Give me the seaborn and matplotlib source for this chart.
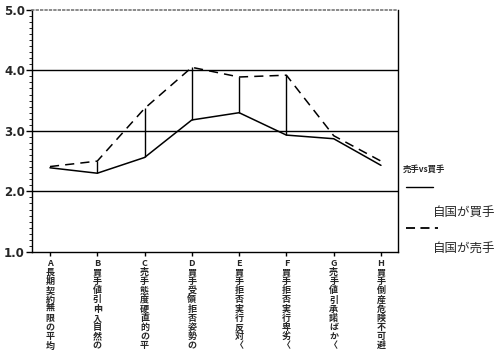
import matplotlib
matplotlib.use("Agg")
import matplotlib.pyplot as plt
import seaborn as sns
import pandas as pd
import numpy as np
from matplotlib.lines import Line2D
from matplotlib.ticker import MultipleLocator

sns.set_theme(style="white")
plt.rcParams['font.family'] = ['Noto Sans CJK JP', 'DejaVu Sans']

categories = ["A長期契約無限の平均", "B買手値引申入自然の", "C売手態度硬直的の平",
              "D買手受領拒否姿勢の", "E買手拒否実行反対〈", "F買手拒否実行卑劣〈",
              "G売手値引承諾ばか〈", "H買手倒産危険不可避"]
buyer = [2.39, 2.30, 2.56, 3.18, 3.30, 2.93, 2.87, 2.43]   # 自国が買手 (solid)
seller = [2.41, 2.50, 3.37, 4.05, 3.89, 3.92, 2.92, 2.50]  # 自国が売手 (dashed)
legend_title = "売手vs買手"
series_names = ["自国が買手", "自国が売手"]
yticks = [1.0, 2.0, 3.0, 4.0, 5.0]

df = pd.DataFrame({
    "cat": categories * 2,
    "value": buyer + seller,
    "series": [series_names[0]] * len(categories) + [series_names[1]] * len(categories),
})

fig = plt.figure(figsize=(5.0, 3.64), dpi=100)
ax = fig.add_axes([0.064, 0.308, 0.732, 0.665])

sns.lineplot(data=df, x="cat", y="value", style="series", color="black",
             dashes={series_names[0]: "", series_names[1]: (6, 4)},
             linewidth=1.1, legend=False, ax=ax, sort=False)

xs = np.arange(len(categories))
ax.vlines(xs[1:6], np.array(buyer[1:6]), np.array(seller[1:6]), color="black", linewidth=1.0)

ax.set_xlim(-0.38, len(categories) - 0.64)
ax.set_ylim(1.0, 5.0)
ax.set_yticks(yticks)
ax.set_yticklabels([f"{v:.1f}" for v in yticks], fontsize=8.5, fontweight="bold", family="DejaVu Sans")
ax.yaxis.set_minor_locator(MultipleLocator(0.1))
ax.tick_params(axis="y", which="major", length=4, width=1, color="black", direction="out", left=True, pad=1)
ax.tick_params(axis="y", which="minor", length=2, width=0.6, color="black", direction="out", left=True)
ax.tick_params(axis="x", which="major", length=3, width=1, color="black", direction="out", bottom=True, pad=2)
for y in [2.0, 3.0, 4.0]:
    ax.axhline(y, color="black", linewidth=1.0, zorder=0)

for s in ["left", "bottom", "right"]:
    ax.spines[s].set_color("black")
    ax.spines[s].set_linewidth(1.0)
ax.spines["top"].set_color("#777777")
ax.spines["top"].set_linestyle(":")
ax.spines["top"].set_linewidth(1.2)

ax.set_xticks(xs)
ax.set_xticklabels(["\n".join(c) for c in categories], fontsize=6.5, fontweight="bold",
                   linespacing=1.02, va="top")
ax.set_xlabel("")
ax.set_ylabel("")

# legend
fig.text(0.806, 1 - 169/364, legend_title, fontsize=6, fontweight="bold", ha="left", va="center")
fig.add_artist(Line2D([0.812, 0.866], [1 - 187/364, 1 - 187/364], color="black", linewidth=1.0))
fig.text(0.866, 1 - 212/364, series_names[0], fontsize=9, ha="left", va="center")
fig.add_artist(Line2D([0.812, 0.876], [1 - 228/364, 1 - 228/364], color="black", linewidth=1.3,
                      linestyle=(0, (5, 3))))
fig.text(0.866, 1 - 249/364, series_names[1], fontsize=9, ha="left", va="center")

fig.savefig("out.png", dpi=100)
